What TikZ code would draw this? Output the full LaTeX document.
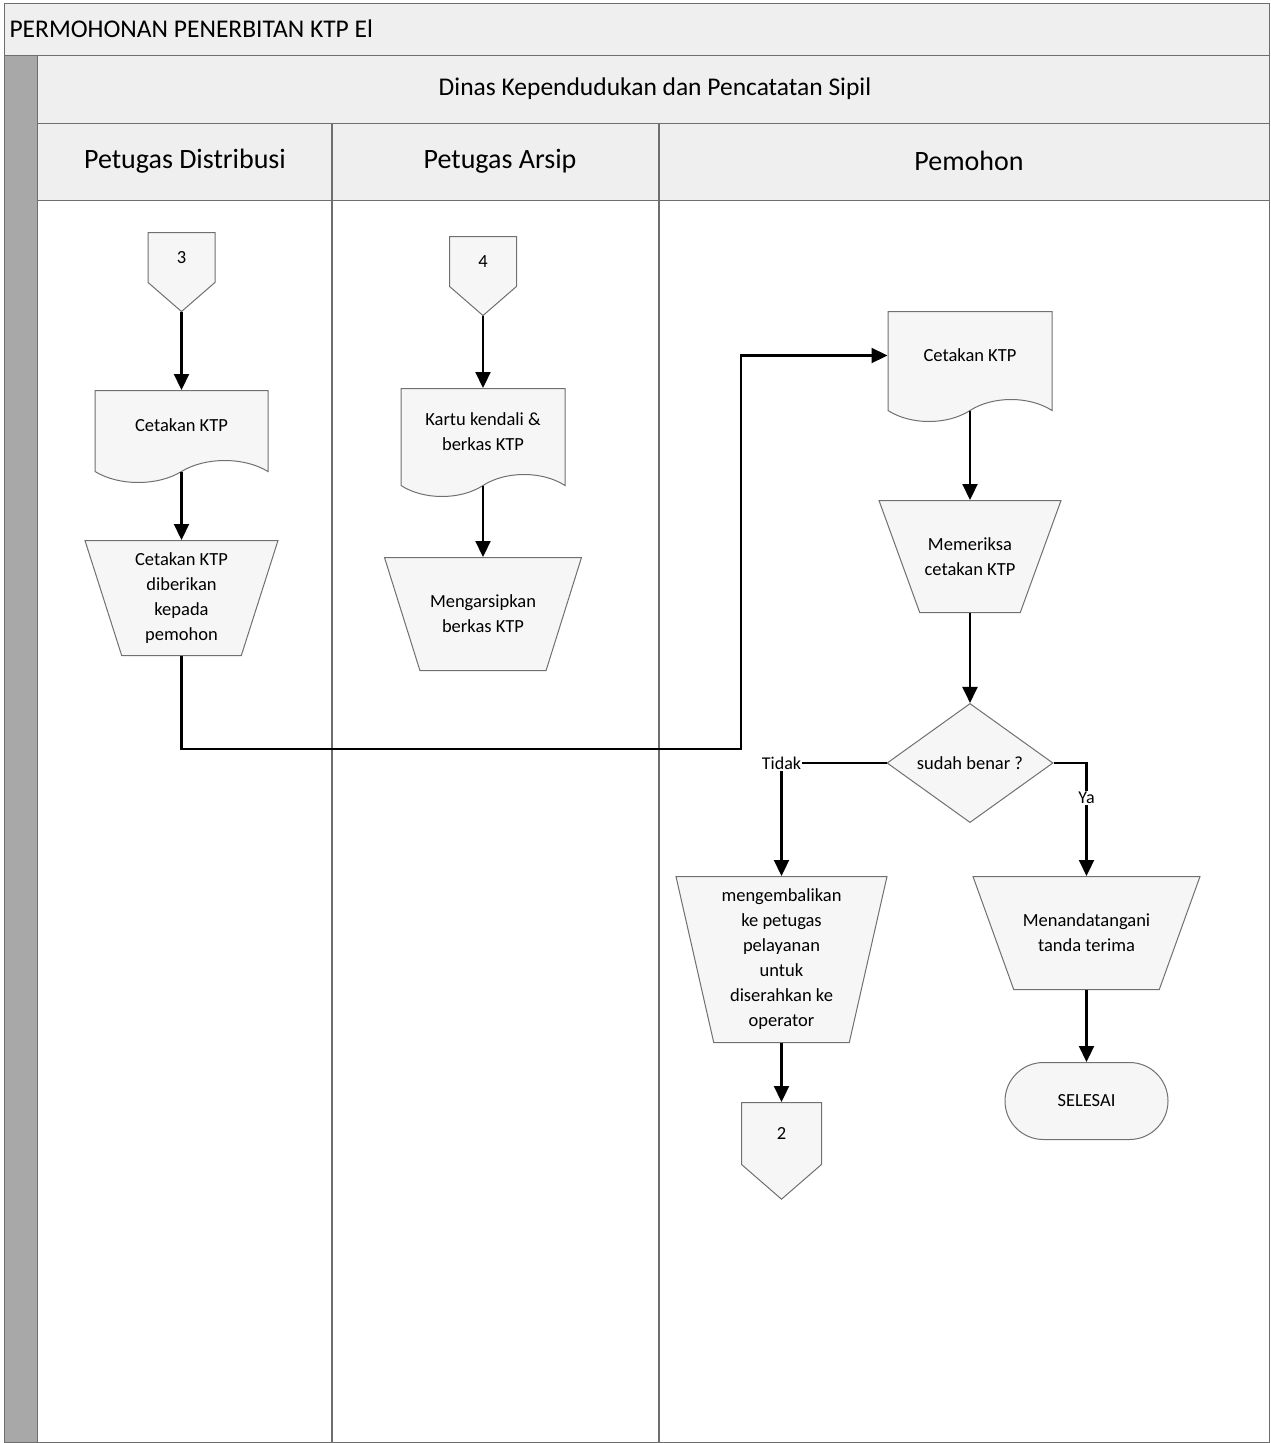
\documentclass[tikz,border=0pt]{standalone}
\usepackage{fontspec}
\setmainfont{Carlito}
\usepackage{tikz}
\usetikzlibrary{arrows.meta}
\usetikzlibrary{shapes.geometric,shapes.symbols,shapes.misc}

\definecolor{bandgray}{HTML}{EFEFEF}
\definecolor{stripgray}{HTML}{A8A8A8}
\definecolor{lanegray}{HTML}{6E6E6E}
\definecolor{boxgray}{HTML}{F6F6F6}
\definecolor{edgegray}{HTML}{707070}

\tikzset{
	shp/.style={draw=edgegray, fill=boxgray, line width=1pt, align=center, inner sep=0pt, font=\fontsize{18.5}{25}\selectfont},
	docbox/.style={shp, tape, tape bend top=none, tape bend bottom=in and out, tape bend height=22pt},
	manual/.style={shp, trapezium, trapezium angle=68, shape border rotate=180, trapezium stretches body},
	offpage/.style={shp, signal, signal to=south, signal pointer angle=98},
	decide/.style={shp, diamond, minimum width=166pt, minimum height=110pt},
	finish/.style={shp, rounded rectangle, minimum width=163pt, minimum height=77pt},
	lbl/.style={fill=white, inner sep=1pt, font=\fontsize{18}{22}\selectfont},
	flow/.style={draw=black, line width=2.2pt, -{Triangle[length=16pt,width=15pt]}},
}

\begin{document}
\begin{tikzpicture}[x=1pt, y=-1pt]
\useasboundingbox (0,0) rectangle (1270,1443);
\fill[white] (0,0) rectangle (1270,1443);

% pool and lanes
\draw[lanegray, fill=bandgray] (4,3) rectangle (1269,55);
\node[anchor=west, font=\fontsize{25.5}{30}\selectfont] (judul) at (6,29) {PERMOHONAN PENERBITAN KTP El};
\draw[lanegray, fill=stripgray] (4,55) rectangle (37,1442);
\draw[lanegray, fill=bandgray] (37,55) rectangle (1269,123);
\node[font=\fontsize{25.5}{30}\selectfont] (dinas) at (655,89) {Dinas Kependudukan dan Pencatatan Sipil};
\draw[lanegray, fill=bandgray] (37,123) rectangle (1269,200);
\draw[lanegray] (37,200) rectangle (1269,1442);
\draw[lanegray, line width=1.6pt] (332,123) -- (332,1442);
\draw[lanegray, line width=1.6pt] (659,123) -- (659,1442);
\node[font=\fontsize{28}{32}\selectfont] (distribusi) at (185,161) {Petugas Distribusi};
\node[font=\fontsize{28}{32}\selectfont] (arsip) at (500,161) {Petugas Arsip};
\node[font=\fontsize{28}{32}\selectfont] (pemohon) at (969,161) {Pemohon};

% Petugas Distribusi
\node[offpage, minimum width=67pt, minimum height=54pt, anchor=north] (c3) at (181.5,232) {3};
\node[docbox, minimum width=173pt, minimum height=92pt, anchor=north] (cetak1) at (181.5,390) {Cetakan KTP};
\node[manual, trapezium angle=68, minimum width=193pt, minimum height=115pt, anchor=north] (beri) at (181.5,540) {Cetakan KTP\\diberikan\\kepada\\pemohon};

% Petugas Arsip
\node[offpage, minimum width=67pt, minimum height=54pt, anchor=north] (c4) at (483,236) {4};
\node[docbox, minimum width=164pt, minimum height=108pt, anchor=north] (kartu) at (483,388) {Kartu kendali \&\\berkas KTP};
\node[manual, trapezium angle=47, minimum width=197pt, minimum height=113pt, anchor=north] (simpan) at (483,557) {Mengarsipkan\\berkas KTP};

% Pemohon
\node[docbox, minimum width=164pt, minimum height=110pt, anchor=north] (cetak3) at (970,311) {Cetakan KTP};
\node[manual, trapezium angle=43, minimum width=182pt, minimum height=112pt, anchor=north] (periksa) at (970,500) {Memeriksa\\cetakan KTP};
\node[decide] (benar) at (970,763) {sudah benar ?};
\node[lbl] (tidak) at (781.5,763) {Tidak};
\node[manual, trapezium angle=75, minimum width=211pt, minimum height=166pt, anchor=north] (kembali) at (781.5,876) {mengembalikan\\ke petugas\\pelayanan\\untuk\\diserahkan ke\\operator};
\node[offpage, minimum width=80pt, minimum height=66pt, anchor=north] (c2) at (781.5,1102) {2};
\node[manual, trapezium angle=43, minimum width=227pt, minimum height=113pt, anchor=north] (tanda) at (1086.5,876) {Menandatangani\\tanda terima};
\node[finish] (selesai) at (1086.5,1101) {SELESAI};

\coordinate (belok) at (741,749);

\draw[flow] (c3.south) -- (cetak1.north);
\draw[flow] ([yshift=-11pt]cetak1.south) -- (beri.north);
\draw[flow] (beri.south) |- (belok) |- (cetak3.west);
\draw[flow] (c4.south) -- (kartu.north);
\draw[flow] ([yshift=-11pt]kartu.south) -- (simpan.north);
\draw[flow] ([yshift=-11pt]cetak3.south) -- (periksa.north);
\draw[flow] (periksa.south) -- (benar.north);
\draw[line width=2.2pt] (benar.west) -- (tidak.east);
\draw[flow] (tidak.south) -- (kembali.north);
\draw[flow] (benar.east) -| node[lbl, pos=0.655] (ya) {Ya} (tanda.north);
\draw[flow] (kembali.south) -- (c2.north);
\draw[flow] (tanda.south) -- (selesai.north);
\end{tikzpicture}
\end{document}
